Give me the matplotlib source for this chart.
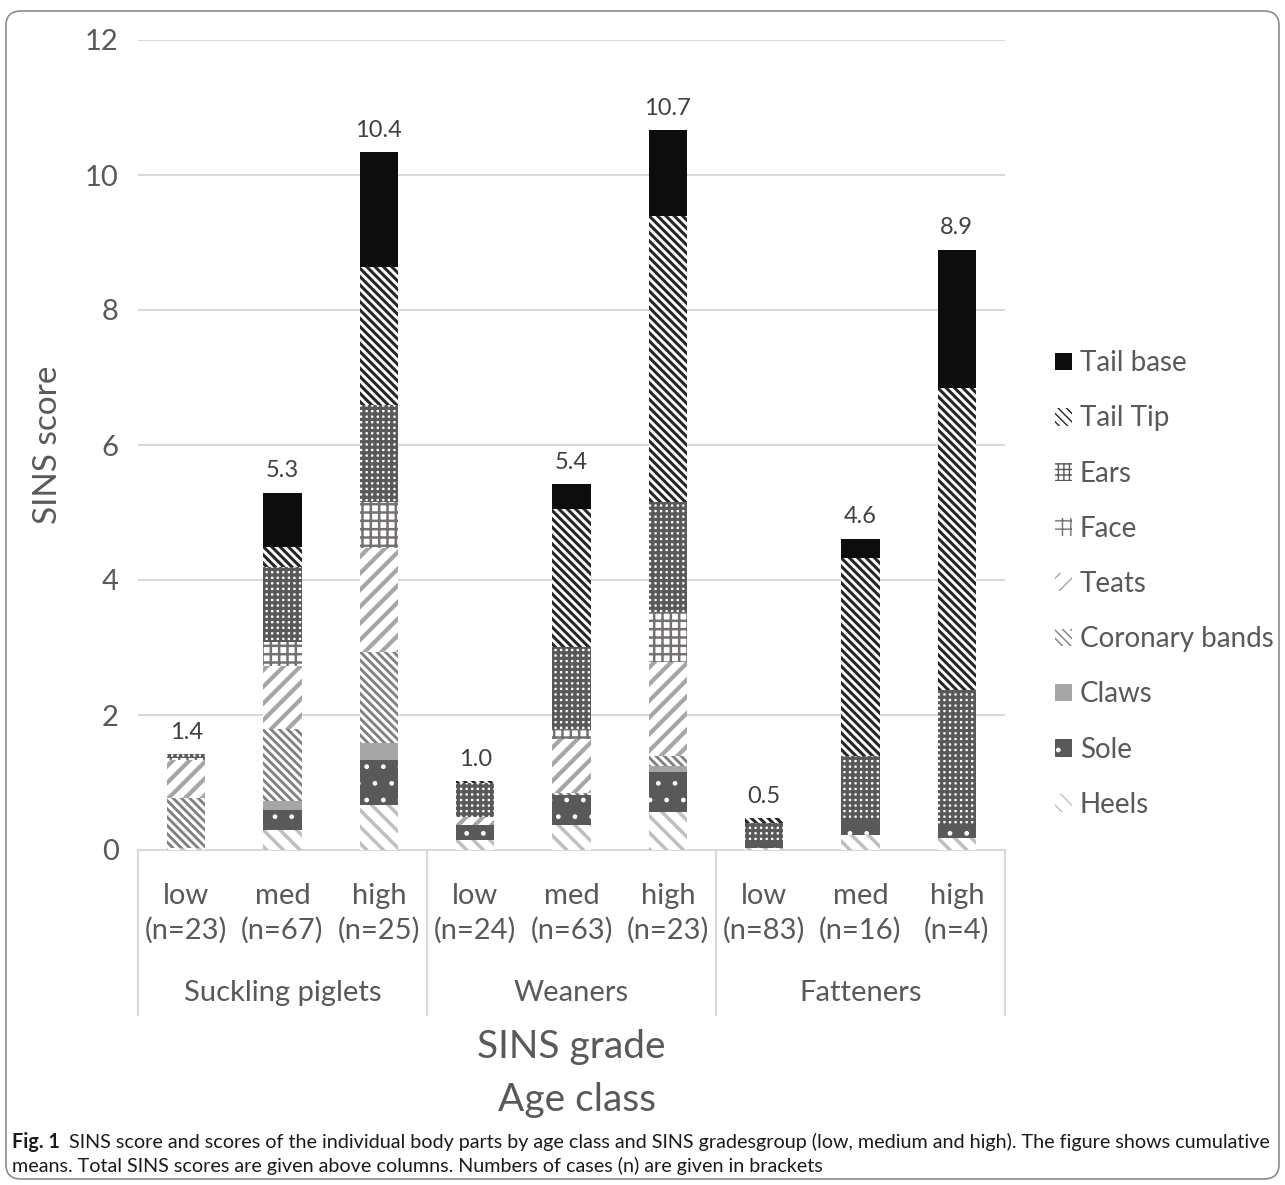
import numpy as np
import matplotlib
matplotlib.use("Agg")
import matplotlib.pyplot as plt
from matplotlib.patches import FancyBboxPatch
import matplotlib.transforms as mtransforms

plt.rcParams['font.family'] = ['Lato', 'DejaVu Sans']

# data (bottom -> top order of stacking)
grades = ["low\n(n=23)", "med\n(n=67)", "high\n(n=25)",
          "low\n(n=24)", "med\n(n=63)", "high\n(n=23)",
          "low\n(n=83)", "med\n(n=16)", "high\n(n=4)"]
age_classes = ["Suckling piglets", "Weaners", "Fatteners"]
totals = ["1.4", "5.3", "10.4", "1.0", "5.4", "10.7", "0.5", "4.6", "8.9"]

heels = [0.03, 0.30, 0.67, 0.15, 0.37, 0.56, 0.03, 0.22, 0.18]
sole = [0.00, 0.30, 0.67, 0.22, 0.44, 0.59, 0.07, 0.22, 0.19]
claws = [0.00, 0.12, 0.25, 0.00, 0.00, 0.10, 0.00, 0.00, 0.00]
coronary = [0.74, 1.07, 1.35, 0.00, 0.03, 0.15, 0.00, 0.00, 0.00]
teats = [0.56, 0.93, 1.54, 0.12, 0.81, 1.38, 0.00, 0.00, 0.00]
face = [0.04, 0.36, 0.67, 0.00, 0.15, 0.74, 0.00, 0.00, 0.00]
ears = [0.05, 1.11, 1.45, 0.50, 1.21, 1.63, 0.30, 0.96, 2.00]
tail_tip = [0.00, 0.30, 2.04, 0.03, 2.04, 4.25, 0.07, 2.93, 4.47]
tail_base = [0.00, 0.80, 1.70, 0.00, 0.37, 1.26, 0.00, 0.28, 2.05]

series = [
    ("Heels", heels, "white", "#bfbfbf", "\\\\", 2.5),
    ("Sole", sole, "#595959", "white", ".", 1.0),
    ("Claws", claws, "#a6a6a6", "#a6a6a6", None, 1.0),
    ("Coronary bands", coronary, "white", "#7f7f7f", "\\\\\\\\", 2.0),
    ("Teats", teats, "white", "#a6a6a6", "//", 3.0),
    ("Face", face, "white", "#767171", "++", 1.8),
    ("Ears", ears, "white", "#595959", "+++", 2.3),
    ("Tail Tip", tail_tip, "white", "#262626", "\\\\\\\\", 2.2),
    ("Tail base", tail_base, "#0d0d0d", "#0d0d0d", None, 1.0),
]

txt = "#595959"
fig = plt.figure(figsize=(12.85, 11.85), dpi=100)
ax = fig.add_axes([138 / 1285, 1 - 850 / 1185, 867 / 1285, 810 / 1185])

x = np.arange(len(grades))
bottom = np.zeros(len(grades))
handles = []
for name, vals, fc, hc, hatch, hlw in series:
    plt.rcParams['hatch.linewidth'] = hlw
    b = ax.bar(x, vals, 0.4, bottom=bottom, color=fc, edgecolor=hc,
               hatch=hatch, linewidth=0, label=name, zorder=3)
    handles.append(b)
    bottom += np.array(vals)

for xi, top, t in zip(x, bottom, totals):
    ax.text(xi, top + 0.17, t, ha="center", va="bottom", fontsize=17, color="#404040")

ax.set_xlim(-0.5, 8.5)
ax.set_ylim(0, 12)
ax.set_yticks(range(0, 13, 2))
ax.tick_params(axis="y", length=0, labelsize=21, labelcolor=txt, pad=14)
ax.tick_params(axis="x", length=0, labelsize=21, labelcolor=txt, pad=24)
ax.set_xticks(x)
ax.set_xticklabels(grades, linespacing=1.35)
ax.grid(axis="y", color="#d9d9d9", linewidth=1.5, zorder=0)
for s in ["top", "right", "left"]:
    ax.spines[s].set_visible(False)
ax.spines["bottom"].set_color("#d9d9d9")
ax.spines["bottom"].set_linewidth(1.5)
ax.set_ylabel("SINS score", fontsize=24, color=txt, labelpad=16)

# group separators and age class labels
trans = mtransforms.blended_transform_factory(ax.transData, ax.transAxes)
for xs in [-0.5, 2.5, 5.5, 8.5]:
    ax.plot([xs, xs], [0, -0.204], transform=trans, color="#d9d9d9",
            linewidth=1.5, clip_on=False)
for i, g in enumerate(age_classes):
    ax.text(3 * i + 1, -0.177, g, transform=trans, ha="center", va="center",
            fontsize=21, color=txt)

fig.text(571 / 1285, 1 - 1047 / 1185, "SINS grade", ha="center", va="center",
         fontsize=28, color=txt)
fig.text(577 / 1285, 1 - 1100 / 1185, "Age class", ha="center", va="center",
         fontsize=28, color=txt)

leg = fig.legend(handles[::-1], [h.get_label() for h in handles[::-1]],
                 loc="center left", bbox_to_anchor=(1030 / 1285, 1 - 584 / 1185),
                 frameon=False, fontsize=20, handlelength=0.6, handleheight=0.6,
                 handletextpad=0.3, labelspacing=1.05, labelcolor=txt)

# outer frame and caption
fig.patches.append(FancyBboxPatch((6 / 1285, 6 / 1185), 1273 / 1285, 1168 / 1185,
                                  boxstyle="round,pad=0,rounding_size=0.012",
                                  transform=fig.transFigure, fill=False,
                                  edgecolor="#8c8c8c", linewidth=1.2))
fig.text(12 / 1285, 1 - 1142 / 1185, "Fig. 1", fontsize=14.2, fontweight="bold",
         color="#1a1a1a", va="center")
fig.text(69 / 1285, 1 - 1142 / 1185,
         "SINS score and scores of the individual body parts by age class and SINS gradesgroup "
         "(low, medium and high). The figure shows cumulative",
         fontsize=14.2, color="#1a1a1a", va="center")
fig.text(12 / 1285, 1 - 1166 / 1185,
         "means. Total SINS scores are given above columns. Numbers of cases (n) are given in brackets",
         fontsize=14.2, color="#1a1a1a", va="center")

fig.savefig("out.png", dpi=100)
